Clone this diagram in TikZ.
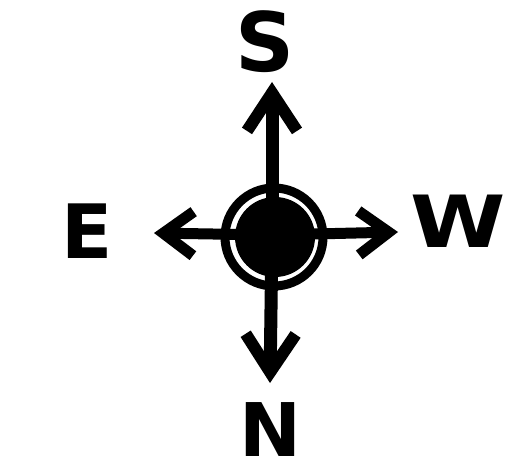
\documentclass[tikz,border=0pt]{standalone}
\usepackage{fontspec}
\setmainfont{DejaVu Sans}
\usetikzlibrary{arrows.meta}
\begin{document}
\begin{tikzpicture}[x=1pt,y=-1pt,line cap=round,line join=round,
  letter/.style={inner sep=0pt,anchor=base,font=\bfseries\fontsize{#1}{#1}\selectfont},
  shaft/.style={line width=#1},
  headv/.style={-{Straight Barb[length=38pt,width=50pt,line width=12pt]}},
  headh/.style={-{Straight Barb[length=30pt,width=44pt,line width=11pt]}}]
\useasboundingbox[fill=white] (0,0) rectangle (518,473);
% arrow ends
\coordinate (cs) at (272,82);
\coordinate (cn) at (270,383);
\coordinate (ce) at (154,233);
\coordinate (cw) at (398,232);
\coordinate (c) at (272,235);
% shafts with heads
\draw[shaft=13pt,headv] (c) -- (cs);
\draw[shaft=13pt,headv] (c) -- (cn);
\draw[shaft=11pt,headh] (c) -- (ce);
\draw[shaft=11pt,headh] (c) -- (cw);
% hub
\draw[line width=9pt] (274,237) circle (49pt);
\node[circle,fill,minimum size=80pt,inner sep=0pt] (hub) at (275,237) {};
% letters
\node[letter=82pt] (S) at (265,72) {S};
\node[letter=74pt] (N) at (270,456) {N};
\node[letter=75pt] (E) at (87,258) {E};
\node[letter=72pt,xscale=1.2] (W) at (458,247) {W};
\end{tikzpicture}
\end{document}
